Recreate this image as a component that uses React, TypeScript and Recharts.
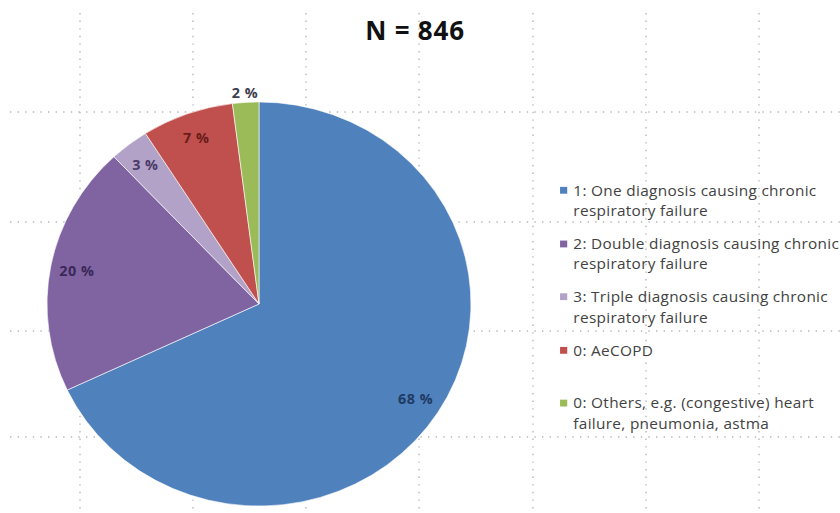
import React from 'react';
import { PieChart, Pie, Cell, Legend } from 'recharts';

// Diagnosis groups, in drawing order (clockwise from 12 o'clock)
const categories = [
  '1: One diagnosis causing chronic\nrespiratory failure',
  '2: Double diagnosis causing chronic\nrespiratory failure',
  '3: Triple diagnosis causing chronic\nrespiratory failure',
  '0: AeCOPD',
  '0: Others, e.g. (congestive) heart\nfailure, pneumonia, astma',
];
// Share of patients per group, in percent
const shares = [68, 20, 3, 7, 2];
const title = 'N = 846';

const sliceColors = ['#4f81bd', '#8064a2', '#b3a2c7', '#c0504d', '#9bbb59'];
const labelColors = ['#1f3b63', '#3a2858', '#4a3b6b', '#6a1c1a', '#3e3e4e'];

const data = categories.map((name, i) => ({ name, value: shares[i] }));

const W = 840;
const H = 513;
const FONT = '"Open Sans", "DejaVu Sans", sans-serif';
const RAD = Math.PI / 180;

// Pie centre and the slight horizontal stretch of the slide's chart area
const CX = 259;
const CY = 304;
const SX = 1.024;
const SY = 0.976;

// Dotted background grid
const gridX = [80, 193, 306, 419, 533, 646, 759];
const gridY = [112, 222, 331, 437];

function Background() {
  return (
    <svg width={W} height={H} style={{ position: 'absolute', left: 0, top: 0 }}>
      <rect x={0} y={0} width={W} height={H} fill="#ffffff" />
      {gridX.map((x) => (
        <line key={`v${x}`} x1={x} y1={13} x2={x} y2={H} stroke="#b8b8b8" strokeWidth={1.4} strokeDasharray="1.4 6.2" />
      ))}
      {gridY.map((y) => (
        <line key={`h${y}`} x1={10} y1={y} x2={W} y2={y} stroke="#b8b8b8" strokeWidth={1.4} strokeDasharray="1.4 6.2" />
      ))}
      <text x={415} y={40} textAnchor="middle" fontFamily={FONT} fontWeight={700} fontSize={26} letterSpacing={0.8} fill="#111111">
        {title}
      </text>
    </svg>
  );
}

function renderLabel(props: any) {
  const { cx, cy, midAngle, outerRadius, percent, value, index } = props;
  const outside = percent < 0.025;
  const r = outside ? outerRadius + 10 : outerRadius * 0.875;
  const x = cx + r * Math.cos(-midAngle * RAD);
  const y = cy + r * Math.sin(-midAngle * RAD);
  return (
    <text
      x={x}
      y={y}
      textAnchor="middle"
      dominantBaseline="central"
      fontFamily={FONT}
      fontWeight={700}
      fontSize={14}
      letterSpacing={0.5}
      fill={labelColors[index] ?? '#333'}
    >
      {`${value} %`}
    </text>
  );
}

// Legend listed in the same order as the slices
function renderLegend() {
  return (
    <div style={{ fontFamily: FONT, fontSize: 15, letterSpacing: 0.3, color: '#424242' }}>
      {categories.map((name, k) => (
        <div key={k} style={{ position: 'relative', height: 54.6, paddingLeft: 13 }}>
          <span
            style={{
              position: 'absolute',
              left: 0,
              top: 7,
              width: 7,
              height: 7,
              background: sliceColors[k],
            }}
          />
          <div style={{ whiteSpace: 'pre-line', lineHeight: '20.5px' }}>{name}</div>
        </div>
      ))}
    </div>
  );
}

export default function App() {
  return (
    <div style={{ position: 'absolute', left: 0, top: 0, width: W, height: H, overflow: 'hidden', background: '#fff' }}>
      <Background />
      <div
        style={{
          position: 'absolute',
          left: 0,
          top: 0,
          transform: `scale(${SX}, ${SY})`,
          transformOrigin: `${CX}px ${CY}px`,
        }}
      >
        <PieChart width={W} height={H} margin={{ top: 0, right: 0, bottom: 0, left: 0 }}>
          <Pie
            data={data}
            dataKey="value"
            nameKey="name"
            cx={CX}
            cy={CY}
            outerRadius={207}
            startAngle={90}
            endAngle={-270}
            stroke="#ffffff"
            strokeWidth={0.6}
            label={renderLabel}
            labelLine={false}
            isAnimationActive={false}
          >
            {data.map((d, i) => (
              <Cell key={d.name} fill={sliceColors[i]} />
            ))}
          </Pie>
          <Legend
            content={renderLegend}
            layout="vertical"
            verticalAlign="top"
            align="right"
            wrapperStyle={{ left: 553, top: 177, width: 290 }}
          />
        </PieChart>
      </div>
    </div>
  );
}
